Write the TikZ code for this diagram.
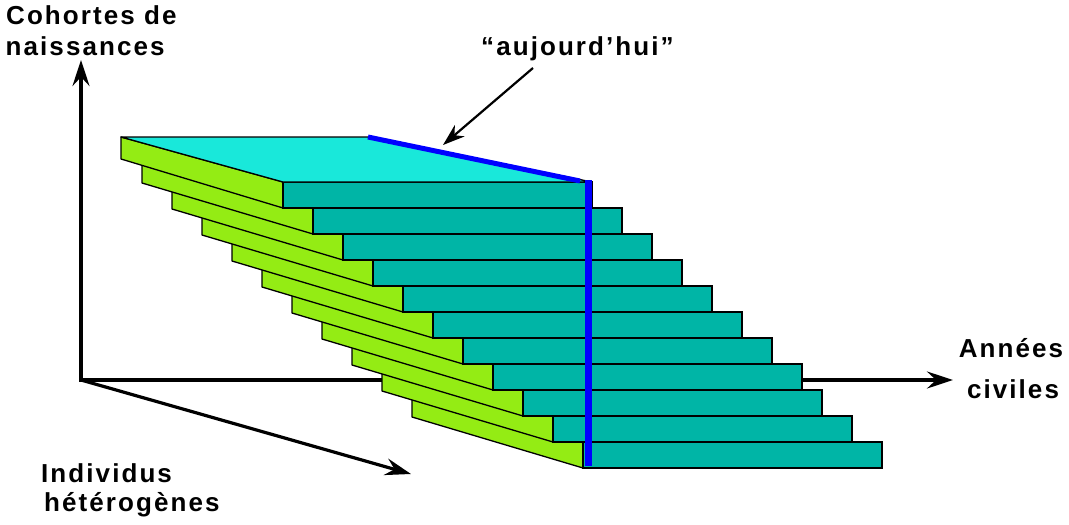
\documentclass[tikz,border=0pt]{standalone}
\usepackage{fontspec}
\setmainfont{Liberation Sans}
\newfontfamily\lblfont{Liberation Sans}[LetterSpace=8]
\usetikzlibrary{arrows.meta}
\definecolor{topcyan}{RGB}{25,232,218}
\definecolor{frontteal}{RGB}{0,181,166}
\definecolor{sidegreen}{RGB}{148,236,20}
\definecolor{nowblue}{RGB}{0,0,255}
\begin{document}
\begin{tikzpicture}[x=1pt,y=-1pt,
  lbl/.style={font=\lblfont\bfseries\fontsize{26}{30}\selectfont, inner sep=0pt},
  axis/.style={line width=3.2pt, line cap=rect, -{Stealth[length=26pt,width=17pt,inset=9pt]}},
  ptr/.style={line width=2.2pt, -{Stealth[length=22pt,width=15pt,inset=7pt]}},
  side/.style={fill=sidegreen, draw=black, line width=1.3pt, line join=round},
  front/.style={fill=frontteal, draw=black, line width=1.3pt},
  topface/.style={fill=topcyan, draw=black, line width=1.3pt, line join=round},
]
\useasboundingbox (0,0) rectangle (1069,525);

% labels
\node[lbl, anchor=base west] (coh1) at (6,24) {Cohortes de};
\node[lbl, anchor=base west] (coh2) at (5.5,55) {naissances};
\node[lbl, anchor=base] (ann1) at (1011,357) {Années};
\node[lbl, anchor=base] (ann2) at (1013,398) {civiles};
\node[lbl, anchor=base west] (ind1) at (41,482) {Individus};
\node[lbl, anchor=base west] (ind2) at (44,511) {hétérogènes};
\node[lbl, anchor=base west] (auj) at (481,55) {“aujourd’hui”};

% axes
\coordinate (O) at (81,380);
\coordinate (Ytip) at (81,60);
\coordinate (Xtip) at (953,380);
\coordinate (Ztip) at (411,474);
\draw[axis] (O) -- (Ytip);
\draw[axis] (O) -- (Xtip);
\draw[axis, line cap=butt] (O) -- (Ztip);

% boards, from bottom to top
\foreach \i/\rr in {10/882, 9/852, 8/822, 7/802, 6/772, 5/742, 4/712, 3/682, 2/652, 1/622} {
  \pgfmathsetmacro\L{142+30*(\i-1)}
  \pgfmathsetmacro\BL{183+26*(\i-1)}
  \pgfmathsetmacro\R{283+30*\i}
  \pgfmathsetmacro\T{182+26*\i}
  \pgfmathsetmacro\B{208+26*\i}
  \draw[side] (\L,\BL-24) -- (\R,\T) -- (\R,\B) -- (\L,\BL) -- cycle;
  \draw[front] (\R,\T) rectangle (\rr,\B);
}
\draw[side] (121,137) -- (283,182) -- (283,208) -- (121,159) -- cycle;
\draw[front] (283,182) rectangle (592,208);
\draw[topface] (121,137) -- (368,137) -- (592,182) -- (283,182) -- cycle;

% "today" lines
\draw[nowblue, line width=5pt] (368,137) -- (580,181);
\draw[nowblue, line width=7pt] (588,180) -- (588,466);

% pointer
\coordinate (aujstart) at (533,68);
\coordinate (aujend) at (443,145);
\draw[ptr] (aujstart) -- (aujend);
\end{tikzpicture}
\end{document}
